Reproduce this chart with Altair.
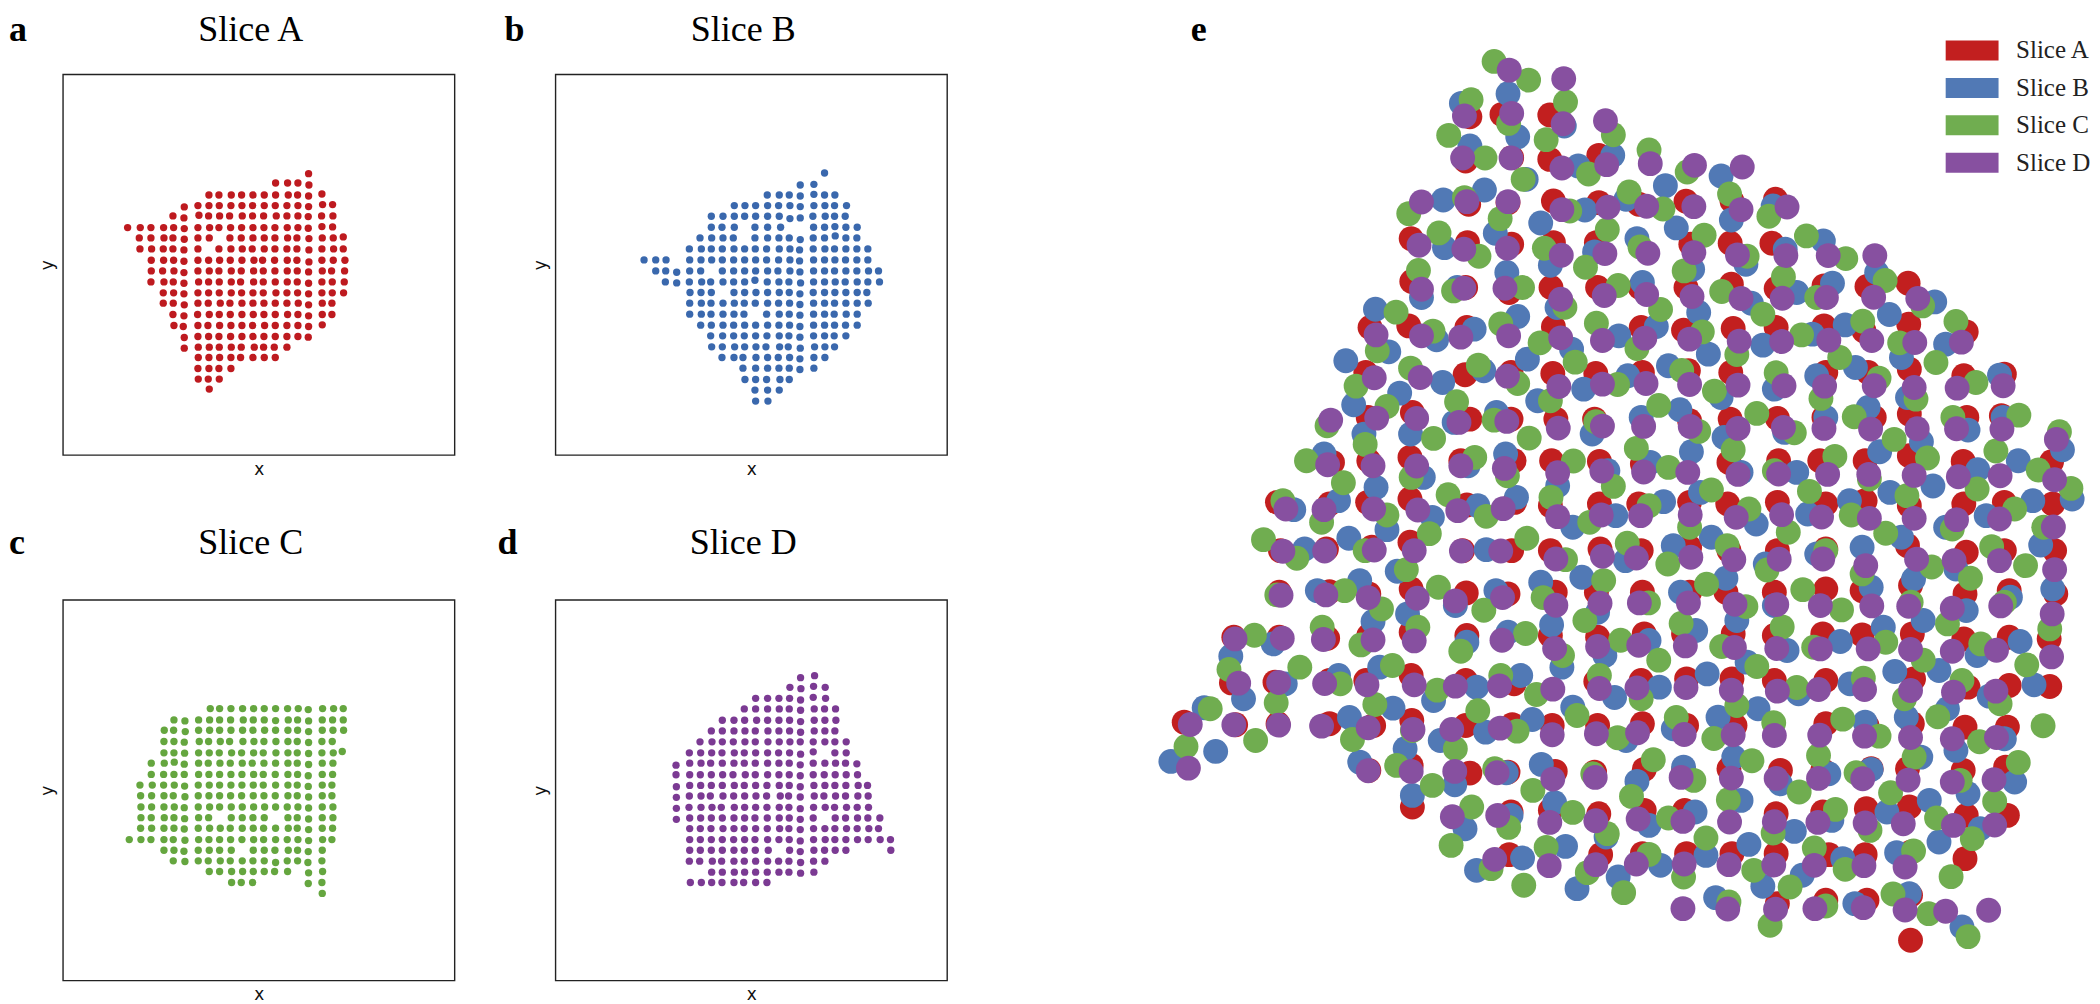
import altair as alt
import pandas as pd

# Panels a-d: values read per row as (row_y, [x or (x, y)])
ROWS_A = [
(523,[924]),(551,[825,861,892,(925,557)]),
(587,[625,655,692,723,757,791,825,863,891,(924,590),(964,584)]),
(619,[(551,623),592,625,656,691,724,756,791,824,859,892,(924,622),(966,616),(996,616)]),
(650,[517,(550,656),(595,648),624,657,687,725,756,789,827,859,892,(923,652),963,997]),
(685,[381,419,451,489,519,(551,688),592,627,655,690,723,757,790,823,860,892,(923,687),(964,682),(996,683)]),
(716,[416,451,490,517,(551,720),592,626,688,722,757,791,823,861,889,(925,718),965,998,(1028,713)]),
(749,[418,453,488,517,(550,752),592,655,691,725,755,791,823,859,889,(925,752),964,999,1028]),
(783,[452,489,519,(550,786),592,624,657,689,724,760,786,822,860,889,(925,788),964,998,1033]),
(815,[452,486,520,(550,820),592,626,655,692,722,759,788,823,860,890,(924,818),965,993,1032]),
(848,[451,490,518,(550,852),594,624,656,692,720,759,788,824,860,890,(924,852),964,995,1031]),
(881,[488,519,(550,884),592,624,656,692,723,757,788,826,859,891,(924,884),964,995,1029]),
(912,[488,518,(551,917),592,623,659,688,724,757,790,824,859,893,(924,917),965,994]),
(946,[517,(550,950),591,626,656,689,724,758,790,824,861,892,(924,950),965,994]),
(979,[520,(548,982),592,622,657,691,724,756,792,824,859,892,(924,982),(965,977)]),
(1012,[(551,1015),592,624,655,690,724,757,790,824,859,892,(923,1014)]),
(1044,[(551,1047),593,626,656,692,722,761,789,821,859]),
(1075,[593,625,657,691,720,757,791,824]),
(1108,[592,625,655,691]),(1140,[593,623,656]),(1170,[626]),
]
ROWS_B = [
(521,[1007]),(555,[(934,557),975]),
(587,[835,871,901,(934,590),(975,585),1007,1038]),
(619,[736,768,800,836,869,903,(934,622),975,1008,1037,1073]),
(651,[667,702,736,767,800,836,871,(903,658),(934,656),972,1009,1037,1069]),
(684,[667,699,736,798,836,875,974,1007,(1038,682),1071,1105]),
(716,[633,668,702,733,798,836,870,901,(934,721),973,1007,(1039,710),1071,1104]),
(749,[601,637,667,700,735,767,799,833,871,903,(932,752),973,1008,1037,1071,1104,1137]),
(782,[465,500,531,602,636,668,700,734,767,800,833,869,903,(932,785),974,1007,1038,1070,1104,1137]),
(815,[500,530,(563,819),602,635,700,734,767,800,836,867,903,(933,818),974,1007,1037,1071,1104,1139,1169]),
(848,[529,(563,851),601,638,665,702,734,767,(798,843),835,870,900,(935,851),974,1007,1039,1069,1105,1137,1172]),
(880,[603,636,667,735,767,801,836,871,901,(933,884),973,1007,1038,1071,1105,1134]),
(912,[602,637,666,702,736,766,799,836,869,902,(933,916),974,1007,1037,1071,1105,1138]),
(945,[602,637,666,702,735,765,833,871,901,(933,948),974,1007,1036,1072,1105]),
(978,[635,667,702,734,767,800,836,870,902,(933,982),974,1007,1037,1070,1105]),
(1010,[665,701,734,766,800,834,871,900,(933,1014),974,1007,1036,1071]),
(1043,[668,700,737,767,801,831,872,898,(934,1047),977,1008,1037]),
(1075,[699,735,762,801,836,868,902,(933,1079),975,1008]),
(1107,[762,800,836,870,901,(933,1111),975]),
(1141,[768,800,833,873,901]),(1173,[798,836,871]),(1206,[800,837]),
]
ROWS_C = [
(569,[629,657,691,726,759,791,825,861,893,(923,572),966,999,1028]),
(603,[520,(553,606),594,627,657,690,728,758,791,(825,605),863,891,(924,606),965,996,1028]),
(634,[491,519,(554,638),594,627,657,691,726,757,792,825,862,891,(924,638),965,997,1029]),
(668,[490,520,(551,670),596,624,659,687,727,760,790,826,862,890,(924,671),964,995]),
(702,[490,520,(552,703),594,626,656,693,723,759,788,826,862,890,(924,704),964,998,(1025,698)]),
(733,[452,491,(521,730),(551,736),594,623,658,689,725,755,790,825,862,890,(924,737),965,997]),
(767,[452,489,520,551,594,625,657,691,724,759,788,824,862,891,(923,771),965,996]),
(799,[418,455,489,521,(552,802),593,626,657,691,724,758,788,825,862,890,(923,803),965,994]),
(831,[420,453,490,518,(553,834),593,625,657,690,723,758,790,824,862,890,(924,835),965,994]),
(865,[421,453,490,521,(551,867),593,627,657,692,725,759,792,825,860,892,(924,868),965,997]),
(897,[421,452,491,520,(552,900),594,624,692,725,757,791,862,890,(924,901),965,997]),
(929,[420,453,490,520,(551,931),593,627,659,689,725,758,789,825,863,890,(924,933),965,996]),
(963,[386,421,451,490,518,(553,965),594,625,657,690,724,759,789,825,860,892,(924,966),966,994]),
(995,[490,520,(550,998),593,626,657,692,758,791,823,863,891,(923,999),965]),
(1027,[518,(553,1029),593,623,659,689,725,757,791,(825,1032),860,891,(922,1032),964]),
(1059,[626,657,693,726,758,791,822,861,(924,1063),966]),
(1092,[693,722,756,(923,1095),964]),(1125,[965]),
]
ROWS_D = [
(470,[(935,476),977]),(505,[903,(936,509),(974,502),1009]),
(538,[800,836,870,902,(935,543),(973,535),1010]),
(570,[766,800,836,871,901,(935,574),976,1007,1040]),
(604,[700,735,767,803,836,870,902,(935,608),976,1008,1041]),
(636,[667,700,735,768,799,837,870,902,(935,640),976,1008,1038]),
(669,[633,669,700,733,768,799,837,871,903,934,973,1008,1038,1072]),
(702,[601,635,668,699,736,766,800,836,869,902,(935,706),(973,699),1038,1072]),
(733,[(561,739),602,636,665,700,735,766,799,836,870,901,(934,738),973,1008,1040,1070,(1104,735)]),
(768,[561,602,634,667,701,732,769,799,836,870,901,(934,771),973,1006,1039,1072,1106]),
(800,[(562,804),602,635,667,700,736,766,800,834,871,901,(934,804),975,1008,1038,1071,1108,1136]),
(832,[(562,836),601,636,664,702,734,767,801,833,874,899,(934,835),976,1005,1040,1070,1107,1138]),
(866,[(562,869),600,636,669,697,736,767,800,834,871,900,(934,870),974,1009,1037,1073,1105,1139]),
(898,[(562,902),602,635,667,700,735,767,798,835,871,901,(934,902),973,1039,1070,1106,1137,1173]),
(930,[602,634,666,702,735,766,800,835,872,900,(934,933),974,1008,1038,1073,1105,1140,1169]),
(963,[602,634,667,700,734,767,798,836,870,901,(934,967),974,1009,1038,1071,1106,1138,1174,1205]),
(995,[602,634,667,700,735,766,799,838,902,(934,999),975,1007,1039,1071,1206]),
(1028,[601,632,670,698,735,766,800,836,869,900,(935,1032),974,1008]),
(1061,[668,700,736,767,800,835,870,900,(935,1064),975]),
(1092,[604,637,668,699,735,764,800,834]),
]

# Panel e: upper part, then lower part (second y offset by 1410)
E_D_UP = [(592,122),(682,148),(518,260),(596,252),(681,283),(751,274),(515,386),(595,386),(679,416),(753,406),(825,403),(898,408),(977,413),
(447,518),(522,517),(590,517),(679,541),(755,534),(819,531),(897,532),(975,541),(1051,533),
(443,648),(517,660),(589,657),(678,678),(750,673),(821,672),(897,670),(969,677),(1049,679),(1119,679),(1196,679),
(447,780),(517,777),(585,777),(677,810),(749,799),(819,796),(894,802),(975,808),(1043,807),(1116,805),(1194,804),(1267,808),
(372,917),(447,920),(512,924),(591,920),(677,926),(746,934),(816,927),(890,930),(972,936),(1042,937),(1120,933),(1191,934),(1262,940),(1339,939),
(369,1046),(445,1045),(589,1041),(674,1072),(746,1065),(818,1063),(890,1066),(970,1068),(1046,1070),(1113,1071),(1195,1070),(1261,1075),(1332,1077),(1408,1070),
(297,1173),(373,1167),(439,1168),(509,1180),(588,1177),(673,1197),(746,1191),(814,1192),(891,1192),(970,1198),(1045,1195),(1112,1198),(1189,1200),(1266,1199),(1331,1199),(1406,1200),(1496,1231),
(292,1307),(367,1310),(439,1311),(512,1310),(584,1318),(672,1331),(745,1326),(814,1329),(887,1330),(970,1336),(1037,1335),(1118,1336),(1186,1336),(1261,1339),(1334,1343),(1403,1340),(1493,1352)]
E_D_LOW = [(223,30),(286,32),(368,30),(441,33),(507,35),(582,29),(672,53),(744,48),(809,50),(891,47),(967,55),(1042,47),(1108,54),(1187,58),(1261,58),(1331,62),(1402,60),(1491,84),
(218,157),(287,156),(369,153),(435,155),(513,156),(578,156),(669,180),(746,172),(802,177),(892,175),(963,182),(1038,181),(1110,180),(1181,200),(1265,181),(1327,185),(1402,185),(1493,212),
(215,289),(289,288),(359,296),(440,298),(503,306),(581,296),(669,319),(742,313),(807,312),(888,312),(965,316),(1034,317),(1106,320),(1191,321),(1252,322),(1324,328),(1404,321),(1489,345),
(139,420),(217,418),(285,422),(367,423),(435,426),(580,424),(667,449),(738,443),(806,439),(883,441),(964,446),(1034,449),(1106,450),(1185,450),(1255,452),(1324,457),(1397,454),(1488,474),
(145,553),(211,551),(287,554),(357,558),(435,558),(503,562),(576,561),(664,571),(741,569),(803,567),(884,566),(959,574),(1035,577),(1103,572),(1179,572),(1255,575),(1326,580),(1396,577),
(65,677),(137,678),(211,679),(282,682),(359,687),(433,692),(497,692),(577,688),(663,708),(736,705),(804,702),(881,707),(962,708),(1030,710),(1105,709),(1179,712),(1255,716),(1324,720),(1397,716),
(62,808),(359,816),(430,818),(502,818),(572,822),(664,841),(734,836),(876,836),(959,838),(1033,839),(1103,839),(1176,840),(1251,844),(1324,850),(1393,843),
(498,954),(573,950),(659,971),(735,966),(805,961),(879,968),(956,970),(1030,969),(1102,971),(1180,973),(1243,975),(1326,980),(1394,979),
(568,1082),(658,1101),(735,1098),(802,1096),(881,1096),(955,1098),(1029,1099),(1096,1100),(1178,1101),(1246,1105),
(879,1230),(953,1231),(1032,1232),(1097,1230),(1177,1227),(1246,1234),(1313,1238),(1384,1235)]

E_C_UP = [(567,96),(624,152),(529,211),(685,218),(591,282),(764,316),(492,318),(653,331),(552,386),(823,362),(615,450),(723,434),(886,428),
(956,494),(518,505),(426,553),(577,568),(692,545),(790,488),(846,539),(1021,561),
(476,611),(754,601),(914,618),(1083,620),(542,681),(650,657),(808,653),(985,681),(1148,688),
(442,724),(718,714),(881,725),(1045,743),(1213,754),
(500,785),(614,775),(772,769),(943,787),(684,834),(842,841),(1011,855),(1275,830),(1100,805),
(405,849),(578,884),(736,882),(466,906),(643,941),(911,908),(1075,917),(1176,876),(1330,877),(1237,941),
(374,965),(803,958),(968,976),(701,999),(429,1017),(541,1008),(1138,985),(1297,1000),
(339,1071),(606,1063),(771,1066),(877,1024),(931,1086),(1033,1031),(1203,1047),(1363,1060),
(505,1118),(390,1132),(660,1115),(839,1129),(1001,1153),(1107,1108),(1264,1110),
(291,1190),(567,1173),(735,1178),(1162,1163),(1325,1165),(1434,1158),(905,1207),(1063,1211),
(354,1246),(467,1228),(625,1227),(802,1258),(962,1262),(1228,1231),(1501,1208),
(257,1295),(535,1285),(698,1296),(855,1315),(1130,1282),(1283,1287),(1396,1266),(1466,1323),
(1030,1325),(318,1361),(430,1345),(589,1340),(764,1372),(1187,1350),(1365,1380),(1520,1378),
(491,1397),(926,1383),(1088,1387),(1249,1400),(661,1405)]
E_C_LOW = [(218,5),(823,20),(988,30),(1157,48),(1427,30),(390,48),(554,52),(725,70),(282,70),(890,85),(1053,100),(1214,103),(460,104),
(186,122),(621,118),(787,133),(952,140),(1389,143),(241,178),(354,155),(685,182),(854,195),(1018,213),(1324,90),(1475,85),(1115,155),(1175,225),(1445,200),(1290,204),(1354,238),
(422,212),(475,265),(748,245),(918,256),(1077,272),(208,288),(320,275),(648,296),(983,323),(822,312),(1141,333),(550,334),(381,330),(1256,310),(1410,310),
(717,365),(441,385),(876,374),(1043,384),(1316,375),(1485,390),(283,385),(619,404),(776,424),(1214,430),(171,409),(347,438),(512,457),(943,443),(1095,445),(1371,435),
(839,484),(680,470),(246,505),(399,500),(1001,503),(1276,484),(1447,498),(129,512),(578,530),(741,530),(1177,538),(313,555),(473,574),(1067,566),(1340,545),
(207,612),(370,617),(637,587),(810,600),(968,620),(1245,600),(1403,615),(540,636),(98,630),
(868,656),(704,650),(1300,654),(1143,661),(1029,672),(1474,681),(605,697),(173,725),(333,722),(771,717),(930,719),(1203,712),(1369,729),(432,695),
(58,743),(503,750),(830,783),(993,786),(1103,770),(1261,775),(1433,791),(406,800),
(568,810),(730,825),(897,845),(1337,845),(1165,822),
(465,860),(631,875),(794,893),(954,903),(1071,880),(1222,882),(1394,908),
(530,925),(1131,932),(697,941),(855,958),(1298,958),(591,986),(754,1005),(1188,995),(917,1018),(1028,1003),(1357,1020),(496,1040),
(653,1046),(823,1067),(1096,1048),(1260,1057),(562,1110),(721,1122),(880,1135),(996,1115),(1147,1112),(1322,1134),
(616,1160),(781,1182),(1056,1165),(955,1210),(1226,1186),(1115,1222),(1285,1245),(1023,1280),(1350,1314)]

E_B_UP = [(513,222),(590,193),(606,322),(683,290),(527,350),(706,410),(763,378),(942,440),(850,469),(620,450),
(483,512),(551,482),(717,542),(785,510),(644,581),(868,596),(959,572),(1028,530),(569,612),
(485,655),(733,668),(803,628),(1111,635),(1048,660),(660,708),(983,705),(588,730),(895,720),(1199,730),
(506,775),(447,805),(812,760),(1126,762),(1067,790),(992,822),(1295,818),(905,850),(1220,856),(671,835),(371,840),
(606,862),(534,900),(835,892),(1147,887),(773,920),(472,932),(695,960),(1093,915),(1011,948),(921,975),(1313,945),(393,968),
(622,990),(1240,985),(322,995),(550,1025),(855,1010),(1164,1015),(788,1040),(1402,1038),(1100,1040),
(482,1060),(715,1080),(411,1092),(1030,1080),(639,1115),(942,1105),(1250,1105),(335,1127),
(874,1142),(1185,1135),(1115,1165),(571,1150),(810,1165),(1408,1165),(1350,1203),(501,1180),(729,1215),(947,1225),(429,1215),(1047,1210),(1273,1238),
(352,1215),(286,1275),(1506,1262),(586,1275),(893,1268),(825,1300),(1204,1268),(1366,1322),(1433,1295),(1067,1330),(524,1310),(755,1325),(450,1345),(975,1330),
(1292,1371),(372,1375),(672,1370),(604,1405),(908,1390),(1221,1390)]
E_B_LOW = [(1154,5),(310,5),(540,20),(847,8),(1457,5),(1522,0),
(236,32),(465,55),(390,92),(327,118),(1000,75),(697,85),(768,50),(1085,45),(1240,115),(926,115),(1313,85),(1380,50),(1470,138),(254,150),(554,152),(863,140),(1175,145),(784,185),(1100,165),(1015,195),(1330,210),(407,217),(345,245),(950,238),(712,235),(644,250),(1260,240),(275,275),(1190,265),(570,275),(1490,270),(875,280),(1420,295),(503,320),(738,340),(1347,335),(1030,320),(424,345),(367,368),(662,378),(968,365),(1276,365),(900,395),(1210,385),(590,400),(522,430),(823,425),(1139,428),(1436,428),(202,435),(132,472),(750,470),(1365,470),(1051,455),(378,505),(985,490),(679,505),(1302,515),(919,525),(1229,518),(611,530),(310,530),(222,555),(538,565),(840,565),(1459,558),(1155,555),(1070,585),(153,600),(467,605),(400,628),(766,596),(1385,592),(1316,630),(1003,630),(697,625),(88,627),(328,656),(630,662),(937,655),(1248,655),(1180,670),(553,700),(863,690),(785,725),(478,725),(1410,720),(1330,755),(107,758),(420,750),(963,775),(33,788),(345,790),(645,797),(1272,775),(1190,812),(880,805),(1427,850),(803,848),(1040,855),(587,822),(1120,825),(502,858),(975,905),(1350,885),(432,890),(667,912),(1286,905),(899,940),(1216,940),(595,950),(1125,965),(1370,990),(519,990),(823,980),(1063,998),(752,1015),(1302,1030),(988,1037),(685,1043),(614,1078),(917,1070),(1232,1062),(1143,1080),(842,1100),(538,1115),(1076,1130),(772,1135),(1011,1163),(704,1170),(933,1197),(1253,1185),(1163,1215),(1340,1285)]

E_A_UP = [(659,257),(527,262),(580,255),(659,390),(740,378),(520,395),(596,385),
(665,515),(740,520),(884,516),(806,525),(1032,510),(960,515),(590,520),(525,525),
(430,628),(523,640),(596,645),(665,640),(736,640),(892,645),(957,642),(1026,642),
(431,757),(520,775),(592,790),(661,775),(738,775),(884,775),(959,765),(1033,778),(1112,770),(1183,772),(1251,762),(808,775),
(362,895),(426,890),(522,895),(665,893),(810,895),(880,903),(962,898),(1033,895),(1112,890),(1252,885),(1347,908),(1178,905),
(355,1030),(519,1037),(595,1030),(664,1033),(735,1033),(812,1030),(958,1030),(888,1025),(1115,1030),(1185,1030),(1253,1020),(1343,1040),(1410,1035),
(432,1150),(359,1165),(527,1170),(595,1170),(669,1170),(733,1170),(890,1175),(957,1170),(1035,1168),(1112,1165),(1195,1165),(1253,1155),(1348,1165),(1405,1160),
(428,1285),(360,1295),(300,1300),(512,1295),(600,1295),(662,1295),(741,1297),(812,1305),(955,1300),(1037,1295),(1105,1295),(1180,1295),(1253,1280),(1342,1297),(1488,1298)]
E_A_LOW = [(209,10),(295,15),(358,10),(428,0),(522,18),(601,10),(660,20),(741,15),(806,15),(890,10),(953,15),(1035,10),(1115,15),(1180,5),(1253,20),(1343,15),(1410,10),(1490,15),
(214,155),(290,150),(365,145),(428,130),(515,155),(596,155),(660,155),(742,150),(810,155),(890,145),(955,155),(1035,155),(1115,150),(1250,140),(1347,160),(1410,155),(1493,155),
(212,280),(295,278),(360,285),(430,270),(521,282),(590,285),(668,280),(736,280),(812,280),(890,280),(950,280),(1030,280),(1115,270),(1175,275),(1255,260),(1345,285),(1418,275),(1495,285),
(137,415),(212,415),(292,418),(360,410),(430,400),(522,410),(660,410),(738,415),(815,405),(880,405),(962,405),(1030,410),(1110,405),(1175,408),(1258,405),(1343,420),(1418,415),(1484,420),
(133,552),(205,550),(295,545),(355,545),(430,530),(520,545),(600,555),(735,548),(810,545),(885,540),(960,540),(1030,545),(1115,545),(1260,540),(1350,565),(1418,560),(1485,563),
(55,670),(140,678),(210,675),(295,675),(368,680),(431,665),(520,680),(597,678),(663,680),(738,680),(812,675),(885,680),(965,680),(1115,675),(1183,680),(1258,675),(1345,685),(1415,685),
(360,815),(430,800),(527,823),(590,820),(668,818),(733,820),(815,812),(880,815),(955,810),(1040,815),(1110,815),(1190,810),(1250,810),(1342,815),(1412,805),
(432,925),(595,940),(660,935),(740,945),(815,935),(882,935),(1033,945),(1110,940),(1182,930),(1253,925),(1347,950),(1415,950),
(592,1068),(743,1068),(812,1065),(885,1065),(960,1065),(1033,1065),(1120,1068),(1180,1068),(1256,1060),(1345,1080),
(1035,1215),(1115,1205),(1183,1205),(1255,1190),(1255,1325)]

SLICES = ["Slice A", "Slice B", "Slice C", "Slice D"]
PANEL_COLORS = ["#BE1A1F", "#3A68AD", "#65A63F", "#7B3A93"]
E_COLORS = ["#C21F1F", "#5179B5", "#70AD50", "#8750A0"]
LOW_OFFSET = 1410
SERIF = "Liberation Serif"


def flatten(rows):
    out = []
    for row_y, items in rows:
        for it in items:
            if isinstance(it, tuple):
                out.append({"x": it[0], "y": it[1]})
            else:
                out.append({"x": it, "y": row_y})
    return pd.DataFrame(out)


def axis(title):
    return alt.Axis(title=title, ticks=False, labels=False, domain=False, grid=False,
                    titleFont="DejaVu Sans", titleFontSize=17, titleFontWeight="normal",
                    titlePadding=6, titleColor="#111")


def panel(rows, name, color, letter, xdom, ydom, letter_dx, top):
    pts = alt.Chart(flatten(rows)).mark_circle(size=54, opacity=1, color=color).encode(
        x=alt.X("x:Q", scale=alt.Scale(domain=xdom, nice=False, zero=False), axis=axis("x")),
        y=alt.Y("y:Q", scale=alt.Scale(domain=ydom, nice=False, zero=False), axis=axis("y")),
    )
    base_y = -33 if top else -46
    lab = alt.Chart(pd.DataFrame({"t": [letter]})).mark_text(
        font=SERIF, fontSize=36, fontWeight="bold", align="left", baseline="alphabetic", color="#000"
    ).encode(text="t:N", x=alt.value(letter_dx), y=alt.value(base_y))
    ttl = alt.Chart(pd.DataFrame({"t": [name]})).mark_text(
        font=SERIF, fontSize=36, align="center", baseline="alphabetic", color="#000"
    ).encode(text="t:N", x=alt.value(188), y=alt.value(base_y))
    return (pts + lab + ttl).properties(width=392, height=381)


a = panel(ROWS_A, SLICES[0], PANEL_COLORS[0], "a", [187, 1362], [1368, 225], -54, True)
b = panel(ROWS_B, SLICES[1], PANEL_COLORS[1], "b", [199, 1375], [1368, 225], -51, True)
c = panel(ROWS_C, SLICES[2], PANEL_COLORS[2], "c", [187, 1362], [1387, 242], -54, False)
d = panel(ROWS_D, SLICES[3], PANEL_COLORS[3], "d", [199, 1375], [1387, 242], -58, False)

frames = []
for nm, up, low in [(SLICES[0], E_A_UP, E_A_LOW), (SLICES[1], E_B_UP, E_B_LOW),
                    (SLICES[2], E_C_UP, E_C_LOW), (SLICES[3], E_D_UP, E_D_LOW)]:
    frames += [{"x": p[0], "y": p[1], "s": nm} for p in up]
    frames += [{"x": p[0], "y": p[1] + LOW_OFFSET, "s": nm} for p in low]
e_df = pd.DataFrame(frames)

e_pts = alt.Chart(e_df).mark_circle(size=620, opacity=1).encode(
    x=alt.X("x:Q", scale=alt.Scale(domain=[0, 1554.8], nice=False, zero=False), axis=None),
    y=alt.Y("y:Q", scale=alt.Scale(domain=[2856, 135], nice=False, zero=False), axis=None),
    color=alt.Color("s:N", scale=alt.Scale(domain=SLICES, range=E_COLORS), legend=alt.Legend(
        title=None, orient="none", legendX=1893, legendY=-42,
        symbolType="M-1.47,-0.556H1.47V0.556H-1.47Z", symbolSize=1296, symbolStrokeWidth=0,
        symbolOpacity=1, labelFont=SERIF, labelFontSize=25, labelColor="#222", labelOffset=26,
        rowPadding=6.5, padding=0)),
)
e_lab = alt.Chart(pd.DataFrame({"t": ["e"]})).mark_text(
    font=SERIF, fontSize=36, fontWeight="bold", align="left", baseline="alphabetic", color="#000"
).encode(text="t:N", x=alt.value(40), y=alt.value(-33))
e = (e_pts + e_lab).properties(width=942, height=907, view=alt.ViewConfig(stroke=None))

col1 = alt.vconcat(a, c, spacing=46)
col2 = alt.vconcat(b, d, spacing=46)
left = alt.hconcat(col1, col2, spacing=41)
chart = alt.hconcat(left, e, spacing=203).properties(
    padding={"left": 0, "top": 3, "right": 0, "bottom": 0}, background="white"
).configure_view(stroke="#222", strokeWidth=1.4)

chart.save("out.html", embed_options={"renderer": "svg", "actions": False})
